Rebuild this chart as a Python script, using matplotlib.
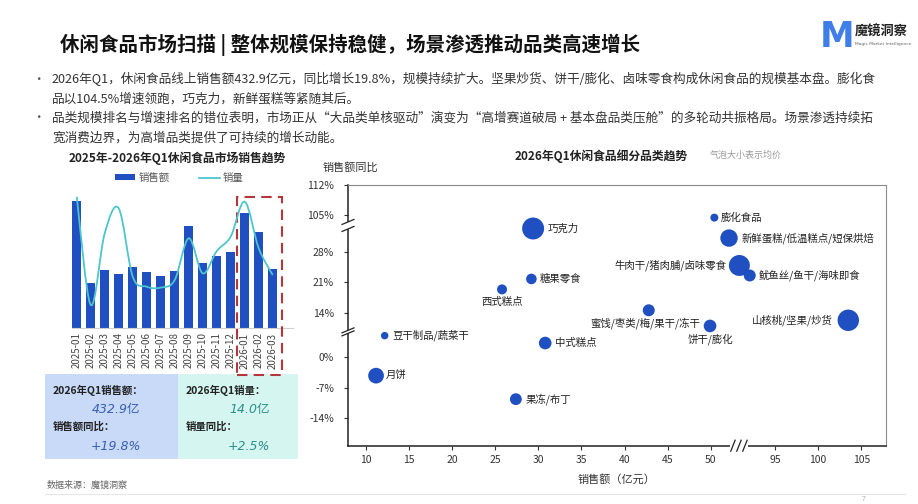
import matplotlib
matplotlib.use("Agg")
import matplotlib.pyplot as plt
import numpy as np
from matplotlib.path import Path
from matplotlib.patches import PathPatch, Rectangle
from matplotlib.lines import Line2D
from matplotlib.transforms import blended_transform_factory

plt.rcParams['font.family'] = ['Noto Sans CJK SC', 'DejaVu Sans']
plt.rcParams['axes.unicode_minus'] = False

W, H = 918, 504

# ---- monthly trend data ----
months = ['2025-01', '2025-02', '2025-03', '2025-04', '2025-05', '2025-06', '2025-07',
          '2025-08', '2025-09', '2025-10', '2025-11', '2025-12', '2026-01', '2026-02', '2026-03']
sales = [203.3, 72.9, 93.1, 86.7, 97.9, 89.9, 83.5, 91.5, 163.3, 104.3, 115.4, 121.8,
         184.2, 153.8, 94.9]          # 亿元
volume = [7.09, 1.26, 5.12, 6.46, 2.78, 2.24, 2.19, 2.60, 4.85, 2.96, 4.16, 4.94,
          6.82, 4.31, 2.87]           # 亿件

# ---- category bubble data ----
cats = ['巧克力', '糖果零食', '西式糕点', '豆干制品/蔬菜干', '中式糕点', '月饼', '果冻/布丁',
        '蜜饯/枣类/梅/果干/冻干', '饼干/膨化', '膨化食品', '新鲜蛋糕/低温糕点/短保烘焙',
        '牛肉干/猪肉脯/卤味零食', '鱿鱼丝/鱼干/海味即食', '山核桃/坚果/炒货']
cat_sales = [29.4, 29.2, 25.8, 12.2, 30.8, 11.2, 27.4, 42.8, 49.9, 50.4, 52.1, 53.3, 54.5, 103.5]
cat_growth = [33.4, 21.8, 19.4, 5.0, 3.3, -4.2, -9.6, 14.6, 11.0, 104.5, 31.2, 24.9, 22.6, 12.3]
cat_price = [121, 28, 25, 14, 40, 62, 35, 36, 40, 16, 76, 110, 36, 115]

# label placement (pixel offset, alignment)
label_pos = [(15, 0, 'left'), (8.5, 0, 'left'), (0, -12.5, 'center'), (7.5, 0, 'left'),
             (10, 0, 'left'), (10, 0, 'left'), (9.5, 0, 'left'), (51, -12.7, 'right'),
             (0, -13.3, 'center'), (6.7, 0, 'left'), (12.7, 0, 'left'), (-13.3, 0, 'right'),
             (8.7, 0, 'left'), (-15.3, 0, 'right')]

BLUE = '#1f4fc0'
TEAL = '#4cc6cc'

fig = plt.figure(figsize=(W / 100, H / 100), dpi=100)


def fx(x):
    return x / W


def fy(y):
    return 1 - y / H


def px_text(x, y, s, **kw):
    fig.text(fx(x), fy(y), s, va=kw.pop('va', 'center'), **kw)


# ---- header ----
px_text(60, 45, '休闲食品市场扫描 | 整体规模保持稳健，场景渗透推动品类高速增长',
        fontsize=14, fontweight='bold', color='#111')
px_text(837, 37, 'M', fontsize=25, fontweight='heavy', color='#3f7ee6', ha='center',
        family=['DejaVu Sans'])
px_text(855, 32, '魔镜洞察', fontsize=9.5, fontweight='bold', color='#222')
px_text(855, 44, 'Magic Market Intelligence', fontsize=3.2, color='#666', family=['DejaVu Sans'])

bullets = [
    (79, '2026年Q1，休闲食品线上销售额432.9亿元，同比增长19.8%，规模持续扩大。坚果炒货、饼干/膨化、卤味零食构成休闲食品的规模基本盘。膨化食', True),
    (99, '品以104.5%增速领跑，巧克力，新鲜蛋糕等紧随其后。', False),
    (118, '品类规模排名与增速排名的错位表明，市场正从“大品类单核驱动”演变为“高增赛道破局 + 基本盘品类压舱”的多轮动共振格局。场景渗透持续拓', True),
    (138, '宽消费边界，为高增品类提供了可持续的增长动能。', False),
]
for y, s, dot in bullets:
    if dot:
        px_text(32, y, '·', fontsize=9, color='#555')
    px_text(52, y, s, fontsize=9.1, color='#333')

# ---- left: monthly bar + line ----
ax = fig.add_axes([fx(71.7), fy(328.3), (293 - 71.7) / W, 133.3 / H])
idx = np.arange(len(months))
bars = ax.bar(idx, sales, width=0.62, color=BLUE, zorder=2)
ax.set_xlim(-0.36, 15.45)
ax.set_ylim(0, 212.8)
ax.set_xticks(idx)
ax.set_xticklabels(months, rotation=90, fontsize=7, color='#444')
ax.tick_params(axis='x', length=0, pad=3)
ax.set_yticks([])
for sp in ['top', 'right', 'left']:
    ax.spines[sp].set_visible(False)
ax.spines['bottom'].set_color('#cfcfcf')
ax.spines['bottom'].set_linewidth(0.8)

ax2 = ax.twinx()
ax2.set_ylim(0, 7.18)
ax2.axis('off')
# smooth curve through volume points (Catmull-Rom as cubic Bezier)
pts = np.column_stack([idx, volume]).astype(float)
verts = [pts[0]]
codes = [Path.MOVETO]
n = len(pts)
for i in range(n - 1):
    p0 = pts[max(i - 1, 0)]
    p1 = pts[i]
    p2 = pts[i + 1]
    p3 = pts[min(i + 2, n - 1)]
    c1 = p1 + (p2 - p0) / 6
    c2 = p2 - (p3 - p1) / 6
    verts += [c1, c2, p2]
    codes += [Path.CURVE4] * 3
line_patch = PathPatch(Path(verts, codes), facecolor='none', edgecolor=TEAL, lw=1.3, zorder=3)
ax2.add_patch(line_patch)

px_text(177.5, 158, '2025年-2026年Q1休闲食品市场销售趋势', fontsize=8.5, fontweight='bold',
        color='#222', ha='center')
leg_line = Line2D([], [], color=TEAL, lw=1.3)
fig.legend([bars, leg_line], ['销售额', '销量'], loc='center', ncol=2,
           bbox_to_anchor=(fx(179), fy(178)), frameon=False, fontsize=7.5,
           handlelength=2.0, handleheight=0.5, columnspacing=2.8, handletextpad=0.3,
           labelcolor='#555')

# red dashed highlight box around Q1 2026
bt = blended_transform_factory(ax.transData, ax.transAxes)
ax.add_patch(Rectangle((11.45, -0.35), 3.2, 1.335, transform=bt, fill=False,
                       edgecolor='#b5373b', lw=1.5, ls=(0, (5, 3)), clip_on=False, zorder=4))

# summary boxes
fig.add_artist(Rectangle((fx(45), fy(459.3)), (177.7 - 45) / W, 85 / H,
                         transform=fig.transFigure, color='#c8daf7', lw=0, zorder=0))
fig.add_artist(Rectangle((fx(177.7), fy(459.3)), (298 - 177.7) / W, 85 / H,
                         transform=fig.transFigure, color='#d5f6f0', lw=0, zorder=0))
px_text(52.7, 390, '2026年Q1销售额：', fontsize=7.5, fontweight='bold', color='#222')
px_text(140, 410, '432.9亿', fontsize=9, style='italic', color='#3a5db5', ha='right',
        family=['DejaVu Sans', 'Noto Sans CJK SC'])
px_text(52.7, 427, '销售额同比：', fontsize=7.5, fontweight='bold', color='#222')
px_text(141, 447, '+19.8%', fontsize=9, style='italic', color='#3a5db5', ha='right',
        family=['DejaVu Sans'])
px_text(185.7, 390, '2026年Q1销量：', fontsize=7.5, fontweight='bold', color='#222')
px_text(270, 410, '14.0亿', fontsize=9, style='italic', color='#2c8f87', ha='right',
        family=['DejaVu Sans', 'Noto Sans CJK SC'])
px_text(185.7, 427, '销量同比：', fontsize=7.5, fontweight='bold', color='#222')
px_text(270, 447, '+2.5%', fontsize=9, style='italic', color='#2c8f87', ha='right',
        family=['DejaVu Sans'])

# ---- right: bubble chart with broken axes ----
def y_fwd(v):
    v = np.asarray(v, dtype=float)
    return np.where(v <= 5.87, v, np.where(v < 9.64, 5.87,
                    np.where(v <= 34.1, v - 3.77, np.where(v < 102.7, 30.33, v - 72.37))))


def y_inv(z):
    z = np.asarray(z, dtype=float)
    return np.where(z <= 5.87, z, np.where(z <= 30.33, z + 3.77, z + 72.37))


def x_fwd(x):
    x = np.asarray(x, dtype=float)
    return np.where(x <= 56, x, np.where(x < 93.58, 56, x - 37.58))


def x_inv(z):
    z = np.asarray(z, dtype=float)
    return np.where(z <= 56, z, z + 37.58)


bx = fig.add_axes([fx(348), fy(445.7), (886 - 348) / W, 260.7 / H])
bx.set_xscale('function', functions=(x_fwd, x_inv))
bx.set_yscale('function', functions=(y_fwd, y_inv))
bx.set_xlim(7.95, 107.87)
bx.set_ylim(-20.3, 112)
sizes = [p * 2.07 for p in cat_price]
bx.scatter(cat_sales, cat_growth, s=sizes, color=BLUE, edgecolors='none', zorder=3)
for c, xv, yv, (dx, dy, ha) in zip(cats, cat_sales, cat_growth, label_pos):
    bx.annotate(c, (xv, yv), xytext=(dx * 0.72, dy * 0.72), textcoords='offset points',
                ha=ha, va='center', fontsize=7.5, color='#222')

yt = [-14, -7, 0, 14, 21, 28, 105, 112]
bx.set_yticks(yt)
bx.set_yticklabels([f'{t}%' for t in yt], fontsize=7.5, color='#333')
xt = [10, 15, 20, 25, 30, 35, 40, 45, 50, 95, 100, 105]
bx.set_xticks(xt)
bx.set_xticklabels([str(t) for t in xt], fontsize=7.5, color='#333')
bx.minorticks_off()
bx.tick_params(axis='both', length=3, width=0.8, color='#333', pad=4)
bx.tick_params(axis='y', pad=7)
for sp in ['top', 'right']:
    bx.spines[sp].set_color('#8a8a8a')
    bx.spines[sp].set_linewidth(0.8)
for sp in ['left', 'bottom']:
    bx.spines[sp].set_color('#222')
    bx.spines[sp].set_linewidth(1.1)

bx.set_xlabel('销售额（亿元）', fontsize=8, color='#333', labelpad=6)
px_text(323, 167, '销售额同比', fontsize=8, color='#333')
px_text(601, 156, '2026年Q1休闲食品细分品类趋势', fontsize=8.5, fontweight='bold',
        color='#222', ha='center')
px_text(710, 155, '气泡大小表示均价', fontsize=6.5, color='#9a9a9a')

# axis break marks
fig.canvas.draw()


def to_fig(xd, yd):
    return fig.transFigure.inverted().transform((xd, yd))


def slash(xc, yc, dx, dy, lw=0.9):
    a = to_fig(xc - dx, yc - dy)
    b = to_fig(xc + dx, yc + dy)
    fig.add_artist(Line2D([a[0], b[0]], [a[1], b[1]], color='#222', lw=lw,
                          transform=fig.transFigure, zorder=6))


def gap(x0, y0, x1, y1):
    a = to_fig(x0, y0)
    b = to_fig(x1, y1)
    fig.add_artist(Rectangle(a, b[0] - a[0], b[1] - a[1], transform=fig.transFigure,
                             color='white', lw=0, zorder=5))


for v, sep in [(60, 7), (7.5, 3)]:
    xd, yd = bx.transData.transform((7.95, v))
    gap(xd - 2, yd - sep / 2, xd + 2, yd + sep / 2)
    slash(xd, yd - sep / 2, 6, 2.5)
    slash(xd, yd + sep / 2, 6, 2.5)

xd, yd = bx.transData.transform((53.25, -20.3))
gap(xd - 9, yd - 2, xd + 9, yd + 2)
for off in (-6, 0, 6):
    slash(xd + off, yd, 2.2, 5.5)

# ---- footer ----
px_text(47, 485, '数据来源：魔镜洞察', fontsize=6.5, color='#666')
fig.add_artist(Line2D([fx(45), fx(905)], [fy(494), fy(494)], color='#e6e6e6', lw=0.8,
                      transform=fig.transFigure))
px_text(862, 499, '7', fontsize=5, color='#aaa')

fig.savefig('out.png', dpi=100)
